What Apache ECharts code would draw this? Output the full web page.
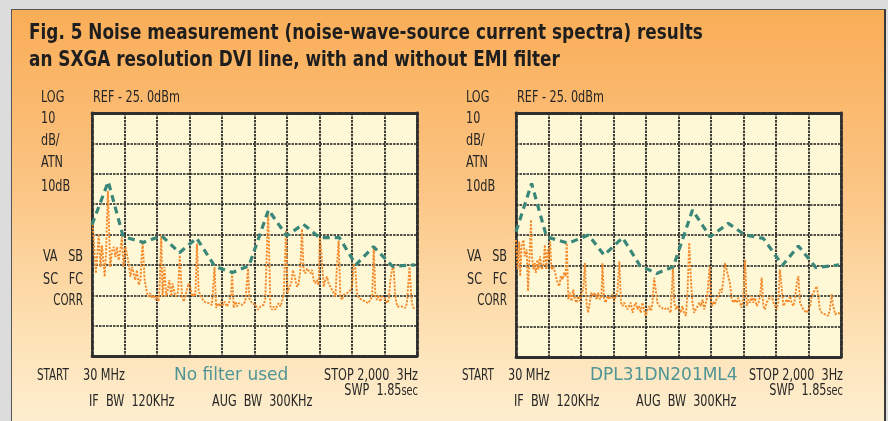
<!DOCTYPE html>
<html>
<head>
<meta charset="utf-8">
<script src="https://cdn.jsdelivr.net/npm/echarts@6/dist/echarts.min.js"></script>
<style>
html,body{margin:0;padding:0;background:#dcdcdc;width:888px;height:421px;overflow:hidden;}
#panel{position:absolute;left:11px;top:9px;width:872px;height:420px;border-left:1px solid #555;border-top:1px solid #555;border-right:2px solid #3a3a3a;
background:linear-gradient(to bottom,#f9ad57 0%,#fbc381 40%,#fde0b2 75%,#fdefd2 100%);}
#chart{position:absolute;left:0;top:0;width:888px;height:421px;}
</style>
</head>
<body>
<div id="panel"></div>
<div id="chart"></div>
<script>
// x in screen divisions (0..10, 30 MHz .. 2,000 MHz), y in dB relative to REF -25.0 dBm (10 dB/div)
const xTicks = [0,1,2,3,4,5,6,7,8,9,10];
const yTicks = [-80,-70,-60,-50,-40,-30,-20,-10,0];

// Left panel: no filter used
const noFilterEnvelope = [[0,-36.8],[0.50,-22.6],[0.96,-40.7],[1.58,-42.6],[2.14,-40.4],[2.69,-46],[3.22,-41.2],[3.78,-50.5],[4.32,-52.5],[4.83,-50.3],[5.43,-31.9],[5.99,-40.4],[6.50,-36.6],[7.00,-41],[7.61,-41],[8.12,-50],[8.66,-44],[9.25,-50.5],[9.94,-50]];
const noFilterSpectrum = [[0.02,-36.5],[0.12,-52.8],[0.21,-39.8],[0.26,-50.7],[0.31,-43.6],[0.39,-53.9],[0.43,-46.3],[0.49,-25.7],[0.56,-50.7],[0.62,-45.2],[0.67,-44.1],[0.72,-47.4],[0.77,-44.1],[0.82,-48.5],[0.87,-45.2],[0.92,-40.9],[0.97,-50.7],[1.03,-44.1],[1.08,-44.7],[1.13,-49.6],[1.18,-53.9],[1.23,-50.7],[1.28,-52.8],[1.33,-55],[1.38,-51.7],[1.44,-56.6],[1.49,-55],[1.54,-45.2],[1.56,-42.5],[1.62,-55],[1.69,-59.3],[1.74,-60.4],[1.79,-59.3],[1.85,-61],[1.90,-59.9],[1.95,-61.5],[2.00,-60.4],[2.05,-62.1],[2.09,-55],[2.13,-40.3],[2.17,-60.4],[2.23,-50.7],[2.28,-60.4],[2.33,-58.3],[2.38,-55],[2.44,-60.4],[2.48,-56.1],[2.54,-59.3],[2.59,-60.4],[2.65,-58.8],[2.70,-46.8],[2.77,-60.4],[2.82,-62.1],[2.87,-60.4],[2.92,-58.3],[2.97,-56.1],[3.03,-57.7],[3.08,-60.4],[3.13,-59.3],[3.18,-60.4],[3.23,-43],[3.28,-58.3],[3.33,-59.9],[3.38,-60.4],[3.44,-62.1],[3.49,-62.6],[3.59,-62.6],[3.69,-63.2],[3.77,-50.7],[3.82,-64.2],[3.87,-62.6],[3.93,-63.7],[3.98,-62.1],[4.03,-63.2],[4.08,-62.1],[4.15,-63.7],[4.21,-62.6],[4.28,-59.9],[4.31,-52.8],[4.36,-64.2],[4.41,-62.1],[4.46,-63.7],[4.51,-62.6],[4.62,-63.2],[4.72,-62.1],[4.80,-51.2],[4.84,-61],[4.92,-62.6],[5.03,-63.2],[5.11,-64.8],[5.18,-63.7],[5.23,-64.2],[5.28,-63.2],[5.33,-61.5],[5.42,-32.2],[5.49,-63.7],[5.54,-64.8],[5.59,-63.7],[5.64,-64.8],[5.69,-64.2],[5.74,-62.6],[5.80,-63.7],[5.85,-62.1],[5.90,-59.3],[5.97,-38.7],[6.02,-59.3],[6.08,-57.2],[6.13,-56.1],[6.18,-51.7],[6.24,-53.9],[6.28,-56.1],[6.31,-57.2],[6.36,-56.1],[6.41,-51.7],[6.46,-38.2],[6.51,-51.7],[6.56,-52.8],[6.62,-51.2],[6.67,-51.7],[6.72,-52.8],[6.77,-51.7],[6.82,-55],[6.87,-56.1],[6.92,-55],[6.97,-56.6],[7.01,-40.9],[7.06,-46.3],[7.13,-57.2],[7.18,-55],[7.23,-53.9],[7.28,-56.1],[7.33,-56.6],[7.39,-58.3],[7.44,-59.3],[7.49,-60.4],[7.54,-49.6],[7.59,-42],[7.64,-60.4],[7.69,-61.5],[7.74,-59.9],[7.80,-60.4],[7.85,-59.3],[7.90,-59.9],[7.95,-58.3],[8.00,-57.2],[8.05,-49.6],[8.10,-50.7],[8.15,-59.3],[8.21,-61],[8.31,-61.5],[8.41,-62.1],[8.51,-62.6],[8.56,-61.5],[8.62,-60.4],[8.67,-44.1],[8.72,-60.4],[8.77,-61.5],[8.82,-59.9],[8.87,-62.1],[8.92,-60.4],[8.97,-61],[9.03,-61.5],[9.08,-62.6],[9.13,-61.5],[9.18,-55],[9.23,-51.7],[9.28,-50.7],[9.33,-60.4],[9.39,-63.7],[9.44,-64.2],[9.54,-63.7],[9.64,-64.2],[9.69,-62.6],[9.74,-55],[9.77,-50.7],[9.83,-61.5],[9.87,-63.7],[9.93,-64.8]];

// Right panel: DPL31DN201ML4 filter
const filterEnvelope = [[0,-38.9],[0.48,-23.1],[0.94,-40.6],[1.61,-42.7],[2.23,-40],[2.71,-46.6],[3.28,-40.9],[3.82,-50.1],[4.33,-52.6],[4.84,-50.4],[5.43,-31.8],[5.97,-40.6],[6.53,-36.2],[7.05,-40],[7.61,-41.1],[8.20,-49.9],[8.69,-43.6],[9.23,-50.7],[9.94,-49.8]];
const filterSpectrum = [[0.00,-41.6],[0.05,-51.3],[0.10,-42.1],[0.13,-53.5],[0.17,-43.7],[0.23,-41.6],[0.27,-47],[0.33,-44.8],[0.37,-58.4],[0.42,-45.9],[0.46,-35],[0.49,-47],[0.54,-51.3],[0.58,-49.2],[0.61,-52.4],[0.66,-48.1],[0.69,-51.3],[0.74,-47],[0.79,-51.3],[0.84,-50.3],[0.89,-43.2],[0.93,-51.3],[0.97,-44.8],[1.01,-48.1],[1.05,-42.1],[1.09,-51.3],[1.15,-50.3],[1.23,-53.5],[1.28,-55.7],[1.33,-56.8],[1.38,-53.5],[1.43,-54.6],[1.48,-52.4],[1.53,-53.5],[1.56,-42.6],[1.61,-61.1],[1.66,-58.9],[1.71,-61.7],[1.76,-57.9],[1.81,-61.1],[1.86,-62.2],[1.91,-60],[1.96,-61.7],[2.02,-58.9],[2.07,-57.9],[2.12,-49.2],[2.17,-62.2],[2.22,-65.5],[2.27,-62.2],[2.32,-58.9],[2.37,-60],[2.43,-58.9],[2.48,-61.1],[2.53,-58.9],[2.58,-61.1],[2.63,-60],[2.66,-49.2],[2.71,-61.1],[2.76,-62.2],[2.82,-60],[2.87,-61.1],[2.92,-60.6],[2.97,-59.5],[3.02,-61.7],[3.07,-60],[3.12,-58.9],[3.18,-48.6],[3.23,-62.2],[3.28,-63.3],[3.33,-62.2],[3.38,-62.8],[3.43,-64.4],[3.48,-63.3],[3.53,-62.2],[3.59,-65.5],[3.64,-63.3],[3.69,-62.2],[3.74,-64.4],[3.79,-63.3],[3.84,-65.5],[3.89,-62.2],[3.94,-64.4],[3.99,-66.5],[4.05,-64.4],[4.10,-63.3],[4.15,-64.9],[4.20,-62.2],[4.25,-54],[4.30,-57.9],[4.35,-62.2],[4.41,-63.3],[4.46,-63.3],[4.56,-64.4],[4.66,-63.8],[4.76,-65.5],[4.83,-50.3],[4.87,-62.2],[4.92,-64.4],[4.97,-63.3],[5.02,-64.4],[5.07,-65.5],[5.12,-63.3],[5.17,-65.5],[5.23,-66.5],[5.28,-57.9],[5.33,-42.5],[5.38,-54.6],[5.43,-62.2],[5.48,-65.5],[5.53,-64.4],[5.59,-63.3],[5.64,-62.2],[5.69,-63.3],[5.74,-61.1],[5.79,-64.4],[5.84,-62.2],[5.88,-60.6],[5.92,-60],[5.96,-50.3],[6.00,-62.2],[6.04,-63.3],[6.08,-61.7],[6.12,-62.8],[6.17,-61.1],[6.23,-60],[6.28,-57.9],[6.33,-58.9],[6.38,-54.6],[6.43,-49.2],[6.48,-48.6],[6.53,-53.5],[6.58,-55.7],[6.64,-61.1],[6.69,-62.2],[6.74,-61.1],[6.79,-62.2],[6.84,-60.6],[6.89,-62.2],[6.94,-63.8],[6.99,-61.1],[7.05,-48.1],[7.10,-63.3],[7.15,-61.1],[7.20,-62.2],[7.25,-60],[7.30,-62.2],[7.35,-60.6],[7.41,-63.3],[7.46,-62.2],[7.51,-60],[7.56,-54],[7.61,-63.3],[7.66,-64.4],[7.71,-62.2],[7.76,-61.1],[7.82,-61.7],[7.87,-60],[7.92,-62.2],[7.97,-62.8],[8.02,-64.4],[8.07,-62.2],[8.12,-51.3],[8.17,-56.8],[8.23,-63.3],[8.28,-62.2],[8.33,-61.1],[8.38,-62.2],[8.43,-60],[8.48,-62.2],[8.53,-63.3],[8.58,-61.1],[8.64,-55.7],[8.69,-53.5],[8.74,-62.2],[8.79,-63.3],[8.84,-64.4],[8.89,-64.9],[8.94,-65.5],[8.99,-66],[9.05,-63.3],[9.10,-60],[9.15,-58.9],[9.20,-57.9],[9.25,-56.8],[9.30,-60],[9.35,-64.4],[9.41,-65.5],[9.51,-66],[9.61,-66.5],[9.66,-64.4],[9.71,-59.5],[9.76,-63.3],[9.82,-66],[9.87,-66.5],[9.92,-65.5],[9.97,-66]];

const titleLines = ['Fig. 5 Noise measurement (noise-wave-source current spectra) results','an SXGA resolution DVI line, with and without EMI filter'];
const leftLabels = ['LOG','10','dB/','ATN','10dB'];
const refLabel = 'REF - 25. 0dBm';
const panelNames = ['No filter used','DPL31DN201ML4'];

const chart = echarts.init(document.getElementById('chart'), null, {renderer:'canvas'});

const NARROW = '"Liberation Sans Narrow","DejaVu Sans Condensed","Arial Narrow",sans-serif';
const INK = '#262626';
const TEAL = '#4f9595';
const GREEN = '#3a877a';
const ORANGE = '#f38a2c';
const SQ = 0.78; // horizontal squeeze of the condensed instrument font

const grids = [
  {left:92, top:113, width:325, height:243},
  {left:516, top:113, width:325, height:244}
];

function xAx(gi, pos){
  return {type:'value', gridIndex:gi, position:pos, min:0, max:10, interval:1,
    axisLabel:{show:false}, axisTick:{show:false},
    axisLine:{show:true, onZero:false, lineStyle:{color:'#2e2e2e', width:2.8, type:[4,2]}},
    splitLine:{show:pos==='bottom', lineStyle:{color:'#1c1c1c', width:1.7, type:[2.5,1]}}};
}
function yAx(gi, pos){
  return {type:'value', gridIndex:gi, position:pos, min:-80, max:0, interval:10,
    axisLabel:{show:false}, axisTick:{show:false},
    axisLine:{show:true, onZero:false, lineStyle:{color:'#2e2e2e', width:2.8, type:[4,2]}},
    splitLine:{show:pos==='left', lineStyle:{color:'#1c1c1c', width:1.7, type:[2.5,1]}}};
}

function txt(text, x, y, opts, sx){
  opts = opts || {};
  return {type:'text', z:100, silent:true, x:x, y:y, scaleX:(sx===undefined?SQ:sx), scaleY:1,
    style:Object.assign({
      text:text, x:0, y:0, fill:INK, font:'16px ' + NARROW, align:'left', verticalAlign:'middle'
    }, opts)};
}

const graphics = [];
graphics.push(txt(titleLines[0], 29, 33, {font:'bold 22px ' + NARROW, fill:'#1e1e1e'}, 0.853));
graphics.push(txt(titleLines[1], 29, 60, {font:'bold 22px ' + NARROW, fill:'#1e1e1e'}, 0.853));

function panelText(ox, rx, labelRight){
  const ys = [98, 119, 141, 163, 187];
  leftLabels.forEach((t,i)=>graphics.push(txt(t, ox, ys[i])));
  graphics.push(txt(refLabel, rx, 98));
  graphics.push(txt('VA   SB', labelRight, 257, {align:'right'}));
  graphics.push(txt('SC   FC', labelRight, 280, {align:'right'}));
  graphics.push(txt('CORR', labelRight, 301, {align:'right'}, 0.72));
}
panelText(41, 93, 83);
panelText(466, 517, 507);

function bottomText(startX, mhzX, ifX, augX, stopR, nameX, name){
  graphics.push(txt('START', startX, 376, {}, 0.72));
  graphics.push(txt('30 MHz', mhzX, 376));
  graphics.push(txt(name, nameX, 376, {fill:TEAL, font:'17px "DejaVu Sans",sans-serif'}, 1));
  graphics.push(txt('STOP 2,000  3Hz', stopR, 376, {align:'right'}));
  graphics.push(txt('{a|SWP  1.85}{b|sec}', stopR, 391, {align:'right', rich:{a:{font:'16px ' + NARROW, fill:INK}, b:{font:'14px ' + NARROW, fill:INK}}}));
  graphics.push(txt('IF  BW  120KHz', ifX, 402));
  graphics.push(txt('AUG  BW  300KHz', augX, 402));
}
bottomText(37, 83, 89, 212, 418, 174, panelNames[0]);
bottomText(462, 508, 514, 636, 843, 590, panelNames[1]);

chart.setOption({
  animation:false,
  backgroundColor:'transparent',
  grid: grids.map(g=>Object.assign({show:true, backgroundColor:'#fef8d6', borderWidth:0}, g)),
  xAxis:[xAx(0,'bottom'), xAx(0,'top'), xAx(1,'bottom'), xAx(1,'top')],
  yAxis:[yAx(0,'left'), yAx(0,'right'), yAx(1,'left'), yAx(1,'right')],
  series:[
    {type:'line', xAxisIndex:0, yAxisIndex:0, data:noFilterSpectrum, symbol:'none', z:3,
      lineStyle:{color:ORANGE, width:1.9, type:[2.2,1.4]}},
    {type:'line', xAxisIndex:0, yAxisIndex:0, data:noFilterEnvelope, symbol:'none', z:4,
      lineStyle:{color:GREEN, width:3.2, type:[7,5]}},
    {type:'line', xAxisIndex:2, yAxisIndex:2, data:filterSpectrum, symbol:'none', z:3,
      lineStyle:{color:ORANGE, width:1.9, type:[2.2,1.4]}},
    {type:'line', xAxisIndex:2, yAxisIndex:2, data:filterEnvelope, symbol:'none', z:4,
      lineStyle:{color:GREEN, width:3.2, type:[7,5]}}
  ],
  graphic: graphics
});
</script>
</body>
</html>
